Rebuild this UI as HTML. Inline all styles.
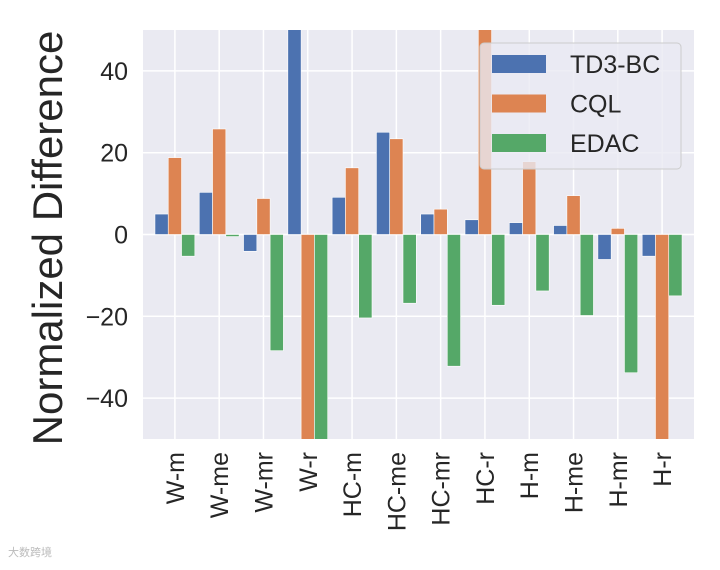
<!DOCTYPE html>
<html><head><meta charset="utf-8">
<style>
html,body{margin:0;padding:0;background:#fff;}
svg{display:block;font-family:"Liberation Sans",Arial,sans-serif;}
</style></head>
<body>
<svg id="chart" width="720" height="570" viewBox="0 0 720 570">
<defs><clipPath id="plotclip"><rect x="143" y="30" width="551" height="409"/></clipPath></defs>
<rect x="143" y="30" width="551" height="409" fill="#EAEAF2"/>
<g id="grid"></g>
<g id="bars" clip-path="url(#plotclip)"></g>
<g id="yticks"></g>
<g id="xticks"></g>
<text x="62" y="238" font-size="42" fill="#262626" text-anchor="middle" transform="rotate(-90 62 238)">Normalized Difference</text>
<g id="legend">
<rect x="480" y="43" width="201" height="126" rx="4" fill="#EAEAF2" fill-opacity="0.8" stroke="#cccccc"/>
</g>
<text x="8" y="556" font-size="11" fill="#bbb">大数跨境</text>
</svg>
<script>
const categories=["W-m","W-me","W-mr","W-r","HC-m","HC-me","HC-mr","HC-r","H-m","H-me","H-mr","H-r"];
const td3bc=[5.0,10.3,-4.1,60,9.1,25.0,5.0,3.6,2.9,2.2,-6.1,-5.3];
const cql=[18.8,25.8,8.8,-60,16.3,23.4,6.2,60,17.8,9.5,1.5,-60];
const edac=[-5.3,-0.5,-28.4,-60,-20.4,-16.8,-32.2,-17.3,-13.8,-19.8,-33.8,-15.0];
const yTicks=[-40,-20,0,20,40];
const seriesNames=["TD3-BC","CQL","EDAC"];
const colors=["#4C72B0","#DD8452","#55A868"];

const NS="http://www.w3.org/2000/svg";
const L=143,R=694,T=30,B=439;
const xMin=-0.72,xMax=11.72,yMin=-50,yMax=50;
function xs(v){return L+(v-xMin)/(xMax-xMin)*(R-L);}
function ys(v){return B-(v-yMin)/(yMax-yMin)*(B-T);}
function mk(tag,attrs,parent){const e=document.createElementNS(NS,tag);for(const k in attrs)e.setAttribute(k,attrs[k]);parent.appendChild(e);return e;}
const grid=document.getElementById('grid'),bars=document.getElementById('bars'),yt=document.getElementById('yticks'),xt=document.getElementById('xticks'),lg=document.getElementById('legend');
yTicks.forEach(v=>{
  const l=mk('line',{x1:L,x2:R,y1:ys(v),y2:ys(v),stroke:'#fff','stroke-width':1.5},grid);
  
  
  const t=mk('text',{x:128,y:ys(v)+9,'font-size':25,fill:'#262626','text-anchor':'end'},yt);
  t.textContent=(v<0?'\u2212'+Math.abs(v):v);
  
  
});
const series=[td3bc,cql,edac];
const bw=0.3;
categories.forEach((c,i)=>{
  const l=mk('line',{x1:xs(i),x2:xs(i),y1:T,y2:B,stroke:'#fff','stroke-width':1.5},grid);
  
  
  series.forEach((s,j)=>{
    const x0=xs(i+(j-1)*bw-bw/2),x1=xs(i+(j-1)*bw+bw/2);
    const y0=ys(0),y1=ys(s[i]);
    const r=mk('rect',{x:x0,y:Math.min(y0,y1),width:x1-x0,height:Math.abs(y1-y0),fill:colors[j],stroke:'#fff','stroke-width':0.6},bars);
    
    
  });
  const tx=xs(i)+9,ty=452;
  const t=mk('text',{x:tx,y:ty,'font-size':25,fill:'#262626','text-anchor':'end',transform:`rotate(-90 ${tx} ${ty})`},xt);
  t.textContent=c;
  
  
});
seriesNames.forEach((n,j)=>{
  const cy=64+j*39.5;
  const p=mk('rect',{x:492,y:cy-9,width:54,height:18,fill:colors[j]},lg);
  
  
  const t=mk('text',{x:570,y:cy+9,'font-size':25,fill:'#262626'},lg);
  t.textContent=n;
  
  
});
</script>
</body></html>
